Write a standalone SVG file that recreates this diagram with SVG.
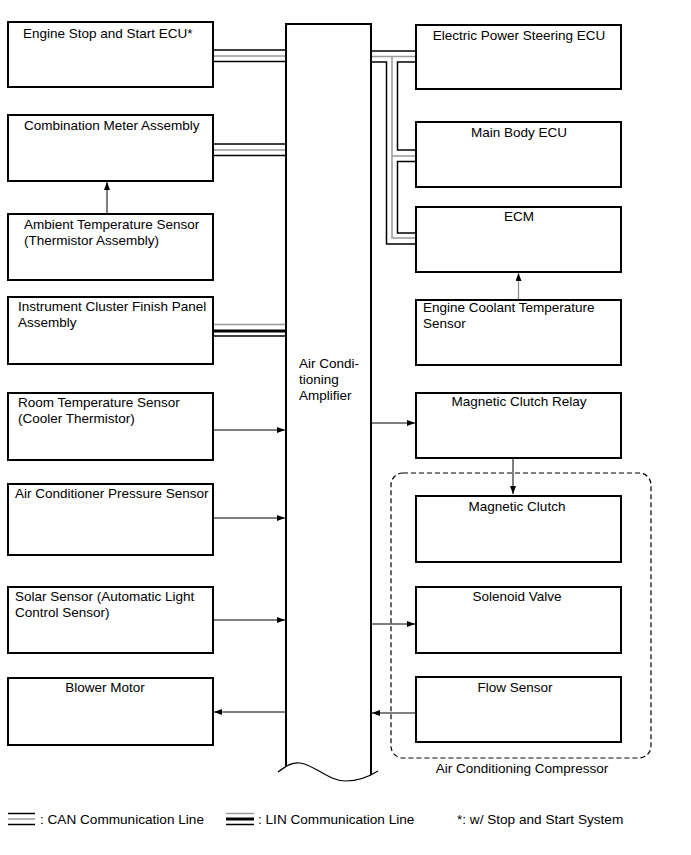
<svg xmlns="http://www.w3.org/2000/svg" width="691" height="855" viewBox="0 0 691 855">
<style>
.box{fill:#fff;stroke:#000;stroke-width:2}
.t{font-family:"Liberation Sans",Arial,sans-serif;font-size:13.5px;fill:#000}
.lg{font-size:13.6px}
.c{text-anchor:middle}
.blk{stroke:#000;stroke-width:1.5;fill:none}
.gry{stroke:#999;stroke-width:1.5;fill:none}
.lin{stroke:#000;stroke-width:3;fill:none}
.arr{stroke:#000;stroke-width:1;fill:none;marker-end:url(#ah)}
.arrg{stroke:#888;stroke-width:1.2;fill:none;marker-end:url(#ah)}
.dash{fill:none;stroke:#000;stroke-width:1.2;stroke-dasharray:5,3}
</style>
<defs>
<marker id="ah" viewBox="0 0 8 6" refX="8" refY="3" markerWidth="8" markerHeight="6" markerUnits="userSpaceOnUse" orient="auto">
<path d="M0,0 L8,3 L0,6 Z" fill="#000"/>
</marker>
</defs>
<rect width="691" height="855" fill="#fff"/>

<g id="compressor-group">
<rect class="dash" x="391" y="473" width="260" height="285" rx="12" ry="12"/>
<text class="t c" x="522" y="773">Air Conditioning Compressor</text>
</g>

<g id="connectors">
<!-- Engine Stop CAN -->
<line class="blk" x1="213" y1="50" x2="286" y2="50"/>
<line class="gry" x1="213" y1="56" x2="286" y2="56"/>
<line class="blk" x1="213" y1="61.5" x2="286" y2="61.5"/>
<!-- Combination Meter CAN -->
<line class="blk" x1="213" y1="144" x2="286" y2="144"/>
<line class="gry" x1="213" y1="150" x2="286" y2="150"/>
<line class="blk" x1="213" y1="155.5" x2="286" y2="155.5"/>
<!-- Instrument Cluster LIN -->
<line class="gry" x1="213" y1="324.5" x2="286" y2="324.5"/>
<line class="lin" x1="213" y1="331" x2="286" y2="331"/>
<line class="blk" x1="213" y1="336" x2="286" y2="336"/>
<!-- Right CAN bus -->
<line class="blk" x1="371" y1="51" x2="416" y2="51"/>
<polyline class="gry" points="371,56.5 416,56.5"/>
<polyline class="gry" points="392,56.5 392,238 416,238"/>
<line class="gry" x1="392" y1="156" x2="416" y2="156"/>
<polyline class="blk" points="371,62 386.5,62 386.5,244 416,244"/>
<polyline class="blk" points="416,62 397.5,62 397.5,150 416,150"/>
<polyline class="blk" points="416,161.5 397.5,161.5 397.5,233 416,233"/>
<!-- arrows -->
<line class="arr" x1="107" y1="214" x2="107" y2="182"/>
<line class="arrg" x1="518.5" y1="299" x2="518.5" y2="273"/>
<line class="arr" x1="213" y1="430" x2="285" y2="430"/>
<line class="arr" x1="213" y1="518" x2="285" y2="518"/>
<line class="arr" x1="213" y1="620" x2="285" y2="620"/>
<line class="arr" x1="286" y1="712" x2="214" y2="712"/>
<line class="arr" x1="371" y1="423" x2="415" y2="423"/>
<line class="arr" x1="371" y1="624" x2="415" y2="624"/>
<line class="arr" x1="416" y1="713" x2="372" y2="713"/>
<line class="arr" x1="513" y1="458" x2="513" y2="494"/>
</g>

<g id="amplifier">
<path d="M286,766 L286,24 L371,24 L371,775" fill="#fff" stroke="#000" stroke-width="2"/>
<path d="M278,772 C286,766 292,762 300,763 C315,765 328,781 346,781 C360,781 370,776 378,771" fill="none" stroke="#000" stroke-width="1.2"/>
<text class="t" x="299" y="368">Air Condi-</text>
<text class="t" x="299" y="384">tioning</text>
<text class="t" x="299" y="400">Amplifier</text>
</g>

<g id="engine-stop">
<rect class="box" x="8" y="22" width="205" height="65"/>
<text class="t" x="23" y="38">Engine Stop and Start ECU*</text>
</g>
<g id="combination-meter">
<rect class="box" x="8" y="115" width="205" height="66"/>
<text class="t" x="24" y="130">Combination Meter Assembly</text>
</g>
<g id="ambient-sensor">
<rect class="box" x="8" y="214" width="205" height="66"/>
<text class="t" x="24" y="229">Ambient Temperature Sensor</text>
<text class="t" x="24" y="245">(Thermistor Assembly)</text>
</g>
<g id="instrument-cluster">
<rect class="box" x="8" y="297" width="205" height="67"/>
<text class="t" x="18" y="311">Instrument Cluster Finish Panel</text>
<text class="t" x="18" y="327">Assembly</text>
</g>
<g id="room-temp">
<rect class="box" x="8" y="393" width="205" height="67"/>
<text class="t" x="18" y="407">Room Temperature Sensor</text>
<text class="t" x="18" y="423">(Cooler Thermistor)</text>
</g>
<g id="ac-pressure">
<rect class="box" x="8" y="484" width="205" height="71"/>
<text class="t" x="15" y="498">Air Conditioner Pressure Sensor</text>
</g>
<g id="solar-sensor">
<rect class="box" x="8" y="587" width="205" height="66"/>
<text class="t" x="15" y="601">Solar Sensor (Automatic Light</text>
<text class="t" x="15" y="617">Control Sensor)</text>
</g>
<g id="blower-motor">
<rect class="box" x="8" y="678" width="205" height="67"/>
<text class="t c" x="105" y="692">Blower Motor</text>
</g>

<g id="eps-ecu">
<rect class="box" x="416" y="25" width="205" height="64"/>
<text class="t c" x="519" y="40">Electric Power Steering ECU</text>
</g>
<g id="main-body-ecu">
<rect class="box" x="416" y="122" width="205" height="65"/>
<text class="t c" x="519" y="137">Main Body ECU</text>
</g>
<g id="ecm">
<rect class="box" x="416" y="207" width="205" height="65"/>
<text class="t c" x="519" y="221">ECM</text>
</g>
<g id="coolant-sensor">
<rect class="box" x="416" y="300" width="205" height="65"/>
<text class="t" x="423" y="312">Engine Coolant Temperature</text>
<text class="t" x="423" y="328">Sensor</text>
</g>
<g id="clutch-relay">
<rect class="box" x="416" y="393" width="205" height="65"/>
<text class="t c" x="519" y="406">Magnetic Clutch Relay</text>
</g>
<g id="magnetic-clutch">
<rect class="box" x="416" y="496" width="205" height="66"/>
<text class="t c" x="517" y="511">Magnetic Clutch</text>
</g>
<g id="solenoid-valve">
<rect class="box" x="416" y="587" width="205" height="66"/>
<text class="t c" x="517" y="601">Solenoid Valve</text>
</g>
<g id="flow-sensor">
<rect class="box" x="416" y="677" width="205" height="65"/>
<text class="t c" x="515" y="692">Flow Sensor</text>
</g>

<g id="legend">
<line class="blk" x1="8" y1="813.5" x2="35" y2="813.5" stroke-width="1"/>
<line class="gry" x1="8" y1="819" x2="35" y2="819" stroke-width="1"/>
<line class="blk" x1="8" y1="824.5" x2="35" y2="824.5" stroke-width="1"/>
<text class="t lg" x="40" y="824">: CAN Communication Line</text>
<line class="gry" x1="226" y1="813.5" x2="254" y2="813.5" stroke-width="1"/>
<line class="lin" x1="226" y1="819" x2="254" y2="819" stroke-width="2.5"/>
<line class="blk" x1="226" y1="824.5" x2="254" y2="824.5" stroke-width="1"/>
<text class="t lg" x="258" y="824">: LIN Communication Line</text>
<text class="t lg" x="457" y="824">*: w/ Stop and Start System</text>
</g>
</svg>
